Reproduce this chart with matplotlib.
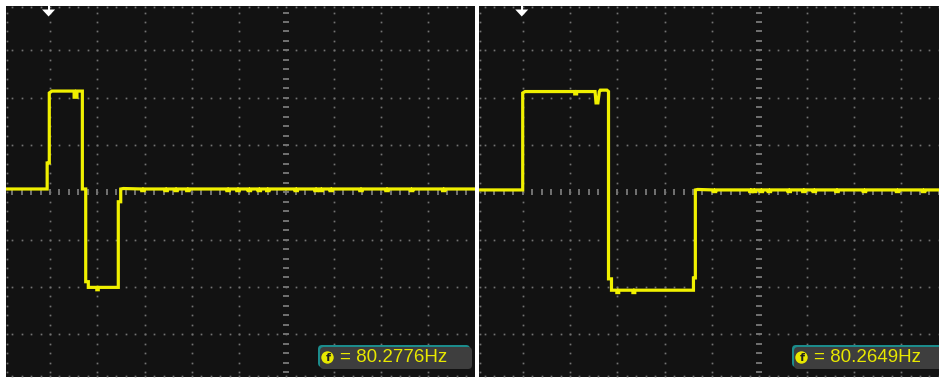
import matplotlib
matplotlib.use("Agg")
import matplotlib.pyplot as plt
from matplotlib.patches import FancyBboxPatch, Polygon, Circle, Rectangle

W, H = 939, 378
DIV = 47.3          # pixels per grid division
CENTER_Y = 192.3    # pixel row of the 0 V line
TOP_PX, BOT_PX = 6, 377

# Channel trace: time in divisions after trigger, level in divisions
left_t = [-0.93, -0.06, -0.06, -0.015, -0.015, 0.04, 0.51, 0.51, 0.57, 0.57,
          0.684, 0.684, 0.755, 0.755, 0.81, 0.81, 0.99, 0.99, 1.02, 1.02,
          1.444, 1.444, 1.495, 1.495, 1.55]
left_v = [0.07, 0.07, 0.62, 0.62, 2.10, 2.14, 2.14, 2.01, 2.01, 2.14,
          2.14, 0.07, 0.07, -1.89, -1.89, -2.01, -2.01, -2.06, -2.06, -2.01,
          -2.01, -0.20, -0.20, 0.07, 0.08]
left_end = 8.99
left_dips = [1.94, 2.43, 2.64, 2.89, 3.74, 3.95, 4.19, 4.40, 4.58, 5.18,
             5.60, 5.71, 5.92, 6.55, 7.10, 7.62, 8.30]

right_t = [-0.93, 0.0, 0.0, 0.05, 1.10, 1.10, 1.14, 1.14, 1.53, 1.55, 1.59,
           1.62, 1.64, 1.78, 1.814, 1.814, 1.877, 1.877, 1.99, 1.99, 2.03,
           2.03, 2.33, 2.33, 2.37, 2.37, 3.61, 3.61, 3.65, 3.65, 3.70]
right_v = [0.05, 0.05, 2.10, 2.13, 2.13, 2.08, 2.08, 2.13, 2.13, 1.89, 1.89,
           2.13, 2.16, 2.16, 2.13, -1.83, -1.83, -2.07, -2.07, -2.12, -2.12,
           -2.07, -2.07, -2.12, -2.12, -2.07, -2.07, -1.81, -1.81, 0.05, 0.06]
right_end = 8.85
right_dips = [4.03, 4.80, 4.87, 5.02, 5.19, 5.61, 5.92, 6.14, 6.62, 7.20,
              7.90, 8.45]

freq_labels = ["80.2776Hz", "80.2649Hz"]
trigger_t = [-0.03, -0.02]

BG = "#121212"
DOT = "#727272"
TRACE = "#f0f000"
TEAL = "#1c8c8c"
BOX = "#3e3e3e"
TXT = "#e8e800"


def with_dips(t, v, end, dips, base):
    tt, vv = list(t), list(v)
    for d in dips:
        tt += [d, d, d + 0.05, d + 0.05]
        vv += [base, base - 0.035, base - 0.035, base]
    tt.append(end)
    vv.append(base)
    return tt, vv


fig = plt.figure(figsize=(W / 100, H / 100), dpi=100, facecolor="white")

# pixel layout of each scope panel: left edge, right edge, x of t=0
panels = [(6, 475, 50.0), (479, 939, 522.7)]
traces = [with_dips(left_t, left_v, left_end, left_dips, 0.07),
          with_dips(right_t, right_v, right_end, right_dips, 0.05)]

ylo = (CENTER_Y - BOT_PX) / DIV
yhi = (CENTER_Y - TOP_PX) / DIV

for (pl, pr, x0), (tt, vv) in zip(panels, traces):
    ax = fig.add_axes([pl / W, (H - BOT_PX) / H, (pr - pl) / W, (BOT_PX - TOP_PX) / H])
    ax.set_facecolor(BG)
    xlo = (pl - x0) / DIV
    xhi = (pr - x0) / DIV
    ax.set_xlim(xlo, xhi)
    ax.set_ylim(ylo, yhi)
    for s in ax.spines.values():
        s.set_visible(False)
    ax.set_xticks([])
    ax.set_yticks([])

    fine_x = [k / 5 for k in range(int(xlo * 5) - 1, int(xhi * 5) + 2) if xlo < k / 5 < xhi]
    fine_y = [k / 5 for k in range(int(ylo * 5) - 1, int(yhi * 5) + 2) if ylo < k / 5 < yhi]

    dx, dy = [], []
    for i in range(int(xlo) - 1, int(xhi) + 2):
        if xlo < i < xhi and i != 5:
            dx += [i] * len(fine_y)
            dy += fine_y
    for j in range(int(ylo) - 1, int(yhi) + 2):
        if ylo < j < yhi and j != 0:
            dx += fine_x
            dy += [j] * len(fine_x)
    # border ticks along top, left and bottom
    dx += fine_x
    dy += [yhi - 0.015] * len(fine_x)
    dx += fine_x
    dy += [ylo + 0.03] * len(fine_x)
    dx += [xlo + 0.02] * len(fine_y)
    dy += fine_y
    ax.plot(dx, dy, ls="none", marker="s", ms=1.25, mew=0, color=DOT, zorder=1)

    # centre axes with tick dashes
    ax.plot(fine_x, [0] * len(fine_x), ls="none", marker="|", ms=3.8, mew=1.4,
            color=DOT, zorder=1)
    ax.plot([5] * len(fine_y), fine_y, ls="none", marker="_", ms=4.4, mew=1.4,
            color=DOT, zorder=1)

    ax.plot(tt, vv, color=TRACE, lw=2.3, solid_joinstyle="miter", zorder=5)

# overlay in pixel units for the readouts and trigger markers
ov = fig.add_axes([0, 0, 1, 1])
ov.set_xlim(0, W)
ov.set_ylim(H, 0)
ov.axis("off")
ov.patch.set_alpha(0)

boxes = [(318, 472), (792, 960)]
for (bx0, bx1), lab in zip(boxes, freq_labels):
    ov.add_patch(FancyBboxPatch((bx0, 345), bx1 - bx0 - 2, 22,
                                boxstyle="round,pad=0,rounding_size=4",
                                fc=TEAL, ec="none", zorder=2))
    ov.add_patch(FancyBboxPatch((bx0 + 2, 347), bx1 - bx0 - 2, 22,
                                boxstyle="round,pad=0,rounding_size=4",
                                fc=BOX, ec="none", zorder=3))
    ov.add_patch(Circle((bx0 + 9.5, 357.5), 6.2, fc=TXT, ec="none", zorder=4))
    ov.text(bx0 + 9.8, 358, "f", color="#202020", fontsize=8, fontweight="bold",
            ha="center", va="center", zorder=5)
    ov.text(bx0 + 22, 358, "= " + lab, color=TXT, fontsize=13.5,
            family=["Liberation Sans", "DejaVu Sans"],
            ha="left", va="center", zorder=5)

for (pl, pr, x0), tt0 in zip(panels, trigger_t):
    xc = x0 + DIV * tt0
    ov.add_patch(Rectangle((xc - 1, 3), 2, 7.5, fc="white", ec="none", zorder=6))
    ov.add_patch(Polygon([(xc - 6.5, 9.5), (xc + 6.5, 9.5), (xc, 16.5)],
                         closed=True, fc="white", ec="none", zorder=6))

fig.savefig("out.png", dpi=100, facecolor="white")
